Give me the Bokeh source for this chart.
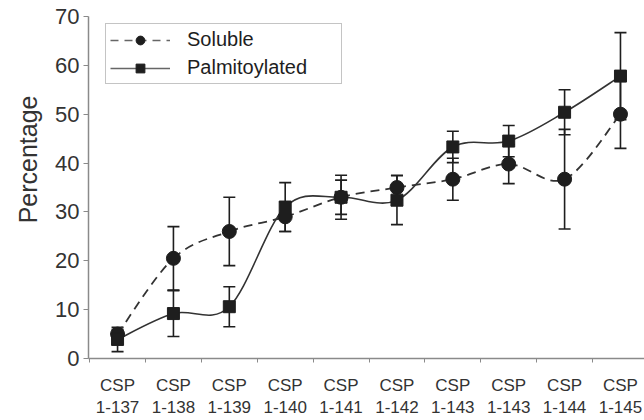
import math
from bokeh.plotting import figure
from bokeh.models import (ColumnDataSource, Range1d, FixedTicker, Whisker, TeeHead,
                          Legend, LegendItem, Title)
from bokeh.embed import file_html
from bokeh.resources import INLINE

# ---- data ----
categories = ["CSP\n1-137", "CSP\n1-138", "CSP\n1-139", "CSP\n1-140", "CSP\n1-141",
              "CSP\n1-142", "CSP\n1-143", "CSP\n1-143", "CSP\n1-144", "CSP\n1-145"]
soluble = [5.0, 20.5, 26.0, 29.0, 33.0, 35.0, 36.7, 39.8, 36.7, 50.0]
soluble_err = [1.0, 6.5, 7.0, 3.0, 3.5, 2.5, 4.3, 4.0, 10.2, 7.0]
palm = [3.9, 9.2, 10.6, 31.0, 33.0, 32.4, 43.3, 44.5, 50.4, 57.8]
palm_err = [2.5, 4.7, 4.1, 5.0, 4.5, 5.0, 3.2, 3.2, 4.6, 8.9]
yticks = [0, 10, 20, 30, 40, 50, 60, 70]

FONT = "Liberation Sans"
INK = "#1e1e1e"
AXIS = "#8a8a8a"

xs = list(range(len(categories)))

p = figure(width=644, height=420, output_backend="svg", toolbar_location=None,
           x_range=Range1d(-0.52, 9.43), y_range=Range1d(0, 70),
           min_border_left=88, min_border_right=0, min_border_top=16, min_border_bottom=61)
p.outline_line_color = None
p.xgrid.visible = False
p.ygrid.visible = False
p.background_fill_color = "white"
p.border_fill_color = "white"


def smooth_segments(x, y):
    n = len(x)
    d = dict(x0=[], y0=[], x1=[], y1=[], cx0=[], cy0=[], cx1=[], cy1=[])
    for i in range(n - 1):
        xm, ym = (x[i - 1], y[i - 1]) if i > 0 else (x[i], y[i])
        xp, yp = (x[i + 2], y[i + 2]) if i + 2 < n else (x[i + 1], y[i + 1])
        d["x0"].append(x[i]); d["y0"].append(y[i])
        d["x1"].append(x[i + 1]); d["y1"].append(y[i + 1])
        d["cx0"].append(x[i] + (x[i + 1] - xm) / 6.0)
        d["cy0"].append(y[i] + (y[i + 1] - ym) / 6.0)
        d["cx1"].append(x[i + 1] - (xp - x[i]) / 6.0)
        d["cy1"].append(y[i + 1] - (yp - y[i]) / 6.0)
    return ColumnDataSource(d)


src_s = ColumnDataSource(dict(x=xs, y=soluble,
                              lo=[v - e for v, e in zip(soluble, soluble_err)],
                              hi=[v + e for v, e in zip(soluble, soluble_err)]))
src_p = ColumnDataSource(dict(x=xs, y=palm,
                              lo=[v - e for v, e in zip(palm, palm_err)],
                              hi=[v + e for v, e in zip(palm, palm_err)]))

# curves
p.bezier(x0="x0", y0="y0", x1="x1", y1="y1", cx0="cx0", cy0="cy0", cx1="cx1", cy1="cy1",
         source=smooth_segments(xs, soluble), line_color="#333333", line_width=1.8,
         line_dash="9 6")
p.bezier(x0="x0", y0="y0", x1="x1", y1="y1", cx0="cx0", cy0="cy0", cx1="cx1", cy1="cy1",
         source=smooth_segments(xs, palm), line_color="#333333", line_width=1.6)

# error bars
for src in (src_s, src_p):
    w = Whisker(base="x", lower="lo", upper="hi", source=src,
                line_color=INK, line_width=1.6,
                upper_head=TeeHead(size=12, line_color=INK, line_width=1.6),
                lower_head=TeeHead(size=12, line_color=INK, line_width=1.6))
    p.add_layout(w)

# markers
m_s = p.scatter("x", "y", source=src_s, marker="circle", size=14,
                fill_color=INK, line_color=INK)
m_p = p.scatter("x", "y", source=src_p, marker="square", size=12,
                fill_color=INK, line_color=INK)

# legend proxies (not visible in the plot area)
nan = float("nan")
leg_src = ColumnDataSource(dict(x=[nan], y=[nan]))
l_s = p.line("x", "y", source=leg_src, line_color="#666666", line_width=1.4, line_dash="8 6")
l_p = p.line("x", "y", source=leg_src, line_color="#666666", line_width=1.4)
legend = Legend(items=[LegendItem(label="Soluble", renderers=[l_s, m_s]),
                       LegendItem(label="Palmitoylated", renderers=[l_p, m_p])],
                location=(17, 274), orientation="vertical",
                label_text_font=FONT, label_text_font_size="20px", label_text_color=INK,
                glyph_width=60, glyph_height=22, label_standoff=17, label_width=150,
                padding=4, spacing=5, margin=0,
                border_line_color=AXIS, border_line_width=1.2,
                background_fill_color="white", background_fill_alpha=1.0)
p.add_layout(legend, "center")

# axes
xa = p.xaxis[0]
xa.ticker = FixedTicker(ticks=xs, minor_ticks=[i + 0.5 for i in xs[:-1]] + [-0.5])
xa.major_label_overrides = {i: c for i, c in zip(xs, categories)}
xa.major_tick_line_color = None
xa.major_tick_out = 0
xa.major_tick_in = 0
xa.minor_tick_out = 4
xa.minor_tick_in = 0
xa.minor_tick_line_color = AXIS
xa.axis_line_color = AXIS
xa.axis_line_width = 1.5
xa.major_label_text_font = FONT
xa.major_label_text_font_size = "17px"
xa.major_label_text_color = "#333333"
xa.major_label_standoff = 13

ya = p.yaxis[0]
ya.ticker = FixedTicker(ticks=yticks, minor_ticks=[])
ya.major_tick_out = 5
ya.major_tick_in = 0
ya.major_tick_line_color = AXIS
ya.axis_line_color = AXIS
ya.axis_line_width = 1.5
ya.major_label_text_font = FONT
ya.major_label_text_font_size = "22px"
ya.major_label_text_color = "#333333"
ya.major_label_standoff = 4

p.add_layout(Title(text="Percentage", align="right", offset=79, standoff=21,
                   text_font=FONT, text_font_size="25px", text_font_style="normal",
                   text_color="#333333"), "left")

open("out.html", "w").write(file_html(p, INLINE))
